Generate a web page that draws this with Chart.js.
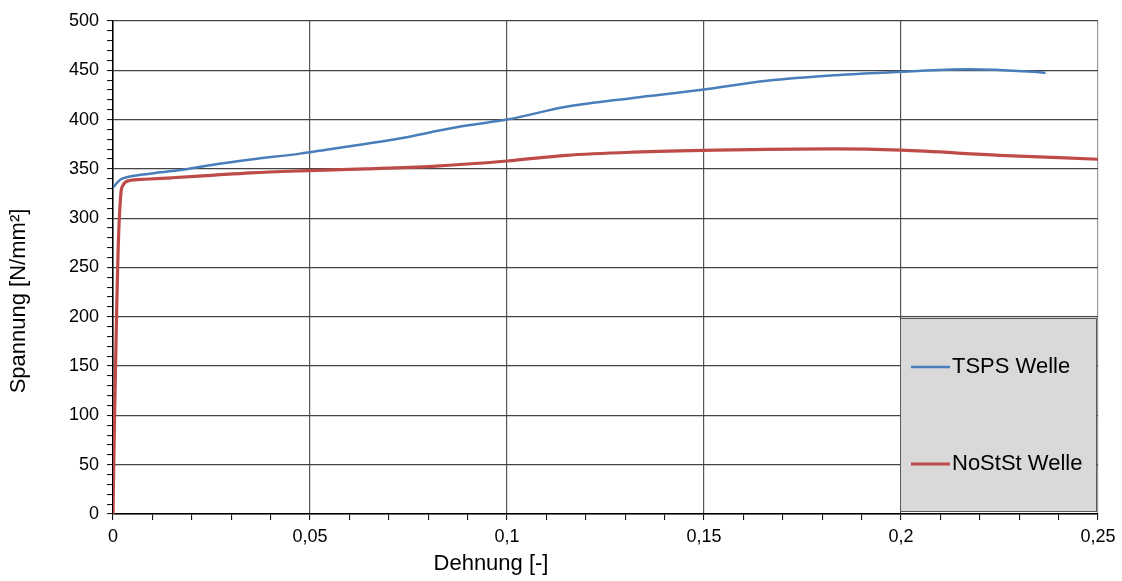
<!DOCTYPE html>
<html>
<head>
<meta charset="utf-8">
<script src="https://cdn.jsdelivr.net/npm/chart.js@4/dist/chart.umd.min.js"></script>
<style>
html,body{margin:0;padding:0;background:#fff;}
#wrap{width:1122px;height:581px;}
</style>
</head>
<body>
<div id="wrap"><canvas id="c" width="1122" height="581"></canvas></div>
<script>
const seriesNames = ['TSPS Welle', 'NoStSt Welle'];
const seriesColors = ['#4a7ebb', '#be4b48'];

const tspsX = [0, 0.0018, 0.004, 0.007, 0.012, 0.019, 0.025, 0.035, 0.0475, 0.055, 0.0644, 0.073, 0.081, 0.0898, 0.1, 0.115, 0.132, 0.149, 0.166, 0.183, 0.2, 0.2167, 0.2335, 0.2367];
const tspsY = [331, 339, 342, 344, 346.5, 350, 354, 359.5, 365.5, 370, 375.5, 381, 387.5, 394, 400, 413, 422, 430, 439.4, 445, 448.5, 451, 448.5, 447.5];

const nostX = [0, 0.0004, 0.0009, 0.0013, 0.002, 0.0025, 0.004, 0.008, 0.015, 0.025, 0.035, 0.0475, 0.064, 0.081, 0.1, 0.115, 0.132, 0.153, 0.183, 0.2, 0.225, 0.25];
const nostY = [0, 100, 200, 268, 325, 333, 338, 339.5, 341, 343.5, 346, 348, 350, 352.6, 358, 363.8, 367, 369, 370.3, 369, 363.8, 359.8];

const xMin = 0, xMax = 0.25, xStep = 0.01, xMajor = 0.05;
const yMin = 0, yMax = 500, yStep = 10, yMajor = 50;
const xTitle = 'Dehnung [-]';
const yTitle = 'Spannung [N/mm²]';

const FONT = '"Liberation Sans", Arial, sans-serif';

function pts(xs, ys){ return xs.map((x,i)=>({x:x, y:ys[i]})); }
function isMajor(v, step){ const r = v/step; return Math.abs(r-Math.round(r)) < 1e-6; }

const overlay = {
  id:'overlay',
  afterDraw(chart){
    const ctx = chart.ctx;
    const ca = chart.chartArea;
    ctx.save();
    // axis titles
    ctx.fillStyle = '#000';
    ctx.font = '22px ' + FONT;
    ctx.textAlign = 'center';
    ctx.textBaseline = 'middle';
    ctx.fillText(xTitle, 491, 564);
    ctx.save();
    ctx.translate(19, 301);
    ctx.rotate(-Math.PI/2);
    ctx.fillText(yTitle, 0, 0);
    ctx.restore();
    // legend box
    const lx = 900, ly = 318, lw = 197, lh = 194;
    ctx.fillStyle = '#d9d9d9';
    ctx.fillRect(lx, ly, lw, lh);
    ctx.strokeStyle = '#5a5a5a';
    ctx.lineWidth = 1;
    ctx.strokeRect(lx+0.5, ly+0.5, lw-1, lh-1);
    const rows = [367, 464];
    chart.data.datasets.forEach((ds, i)=>{
      const y = rows[i];
      ctx.strokeStyle = ds.borderColor;
      ctx.lineWidth = ds.borderWidth;
      ctx.beginPath();
      ctx.moveTo(911, y);
      ctx.lineTo(950, y);
      ctx.stroke();
      ctx.fillStyle = '#000';
      ctx.font = '22px ' + FONT;
      ctx.textAlign = 'left';
      ctx.textBaseline = 'middle';
      ctx.fillText(ds.label, 952, y);
    });
    ctx.restore();
  }
};

new Chart(document.getElementById('c'), {
  type: 'scatter',
  data: {
    datasets: [
      { label: seriesNames[0], data: pts(tspsX, tspsY), showLine: true, borderColor: seriesColors[0], backgroundColor: seriesColors[0], borderWidth: 2.5, pointRadius: 0, cubicInterpolationMode: 'monotone', order: 2 },
      { label: seriesNames[1], data: pts(nostX, nostY), showLine: true, borderColor: seriesColors[1], backgroundColor: seriesColors[1], borderWidth: 3.2, pointRadius: 0, cubicInterpolationMode: 'monotone', order: 1 }
    ]
  },
  options: {
    responsive: false,
    animation: false,
    layout: { padding: { left: 0, top: 21, right: 24, bottom: 0 } },
    plugins: { legend: { display: false }, tooltip: { enabled: false } },
    scales: {
      x: {
        type: 'linear', min: xMin, max: xMax,
        afterFit(s){ s.height = 67; },
        afterBuildTicks(s){ const t=[]; for(let i=0;i<=Math.round((xMax-xMin)/xStep);i++) t.push({value: +(xMin+i*xStep).toFixed(4)}); s.ticks = t; },
        ticks: { autoSkip: false, maxRotation: 0, padding: 6, color: '#000', font: { size: 18, family: FONT },
          callback: (v)=> isMajor(v, xMajor) ? String(+v.toFixed(2)).replace('.', ',') : '' },
        grid: { drawTicks: true, tickLength: 6, tickColor: '#000', tickWidth: 1,
          color: (c)=> (c.tick && isMajor(c.tick.value, xMajor)) ? (Math.abs(c.tick.value - xMax) < 1e-9 ? '#9a9a9a' : '#555') : 'rgba(0,0,0,0)', lineWidth: 1.2 },
        border: { color: '#000', width: 1.5 }
      },
      y: {
        type: 'linear', min: yMin, max: yMax,
        afterFit(s){ s.width = 113; },
        ticks: { stepSize: yStep, autoSkip: false, padding: 8, color: '#000', font: { size: 18, family: FONT },
          callback: (v)=> isMajor(v, yMajor) ? String(v) : '' },
        grid: { drawTicks: true, tickLength: 6, tickColor: '#000', tickWidth: 1,
          color: (c)=> (c.tick && isMajor(c.tick.value, yMajor)) ? '#444' : 'rgba(0,0,0,0)', lineWidth: 1.2 },
        border: { color: '#000', width: 1.5 }
      }
    }
  },
  plugins: [overlay]
});
</script>
</body>
</html>
